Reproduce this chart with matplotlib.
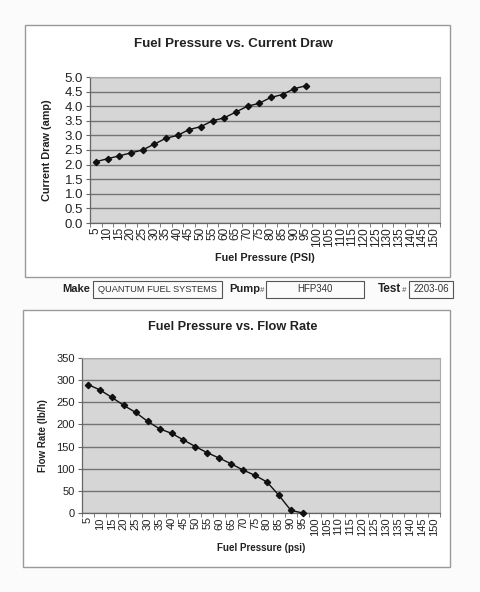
import matplotlib
matplotlib.use("Agg")
import matplotlib.pyplot as plt
from matplotlib.patches import Rectangle

plt.rcParams['font.family'] = ['Liberation Sans', 'DejaVu Sans']

categories = [str(v) for v in range(5, 155, 5)]
pressure_measured = [str(v) for v in range(5, 100, 5)]
current_draw = [2.1, 2.2, 2.3, 2.4, 2.5, 2.7, 2.9, 3.0, 3.2, 3.3, 3.5, 3.6,
                3.8, 4.0, 4.1, 4.3, 4.4, 4.6, 4.7]
flow_rate = [290, 278, 261, 243, 227, 207, 190, 180, 165, 150, 136, 124,
             111, 97, 85, 70, 40, 6, 0]
current_ticks = [0.0, 0.5, 1.0, 1.5, 2.0, 2.5, 3.0, 3.5, 4.0, 4.5, 5.0]
flow_ticks = [0, 50, 100, 150, 200, 250, 300, 350]

W, H = 480, 592
fig = plt.figure(figsize=(W / 100, H / 100), dpi=100)
fig.patch.set_facecolor('#fbfbfb')


def rect_px(x0, y0, x1, y1):
    return [x0 / W, 1 - y1 / H, (x1 - x0) / W, (y1 - y0) / H]


def box(x0, y0, x1, y1, ec='#9a9a9a', lw=1.0, fc='none', z=1):
    r = Rectangle((x0 / W, 1 - y1 / H), (x1 - x0) / W, (y1 - y0) / H,
                  transform=fig.transFigure, fill=(fc != 'none'),
                  facecolor=fc, edgecolor=ec, linewidth=lw, zorder=z)
    fig.add_artist(r)


def txt(x, y, s, **kw):
    fig.text(x / W, 1 - y / H, s, **kw)


# outer chart frames (behind the axes)
box(25, 25, 450, 277, fc='white', z=-5)
box(23, 310, 450, 567, fc='white', z=-5)


def make_chart(rect, values, yticks, ylabels, title, xlabel, ylabel,
               title_xy, xlabel_y, ylabel_x, fs_title, fs_lab, fs_xt, fs_yt):
    ax = fig.add_axes(rect_px(*rect))
    ax.set_facecolor('#d6d6d6')
    idx = list(range(len(categories)))
    xs = [categories.index(p) for p in pressure_measured]
    ax.plot(xs, values, color='#111111', lw=1.0, marker='D', ms=3.2,
            mfc='#111111', mec='#111111', clip_on=False, zorder=3)
    ax.set_xlim(-0.5, len(categories) - 0.5)
    ax.set_ylim(yticks[0], yticks[-1])
    ax.set_xticks(idx)
    ax.set_xticklabels(categories, rotation=90, fontsize=fs_xt,
                       color='#222222')
    ax.set_xticks([i - 0.5 for i in range(len(categories) + 1)], minor=True)
    ax.tick_params(axis='x', which='major', length=0, pad=3)
    ax.tick_params(axis='x', which='minor', length=3, color='#666666')
    ax.set_yticks(yticks)
    ax.set_yticklabels(ylabels, fontsize=fs_yt, color='#222222')
    ax.tick_params(axis='y', length=3, color='#666666', pad=2)
    ax.grid(axis='y', color='#737373', lw=1.0)
    ax.set_axisbelow(True)
    for s in ['top', 'right']:
        ax.spines[s].set_color('#aaaaaa')
        ax.spines[s].set_linewidth(0.8)
    for s in ['left', 'bottom']:
        ax.spines[s].set_color('#666666')
        ax.spines[s].set_linewidth(0.9)
    txt(title_xy[0], title_xy[1], title, ha='center', va='center',
        fontsize=fs_title, fontweight='bold', color='#222222')
    txt((rect[0] + rect[2]) / 2, xlabel_y, xlabel, ha='center', va='center',
        fontsize=fs_lab, fontweight='bold', color='#222222')
    txt(ylabel_x, (rect[1] + rect[3]) / 2, ylabel, ha='center', va='center',
        rotation=90, fontsize=fs_lab, fontweight='bold', color='#222222')
    return ax


make_chart((90, 77, 440, 223), current_draw, current_ticks,
           [f'{v:.1f}' for v in current_ticks],
           'Fuel Pressure vs. Current Draw', 'Fuel Pressure (PSI)',
           'Current Draw (amp)', (233, 44), 258, 47,
           9.6, 7.8, 8.5, 9.5)

make_chart((82, 358, 440, 513), flow_rate, flow_ticks,
           [str(v) for v in flow_ticks],
           'Fuel Pressure vs. Flow Rate', 'Fuel Pressure (psi)',
           'Flow Rate (lb/h)', (233, 327), 548, 43,
           9.2, 7.0, 8.0, 8.0)

# info row
txt(62, 289, 'Make', ha='left', va='center', fontsize=8, fontweight='bold',
    color='#222222')
box(93, 281, 222, 298, ec='#555555', lw=0.8)
txt(157.5, 289, 'QUANTUM FUEL SYSTEMS', ha='center', va='center',
    fontsize=6.7, color='#333333')
txt(229, 289, 'Pump', ha='left', va='center', fontsize=8, fontweight='bold',
    color='#222222')
txt(260, 290, '#', ha='left', va='center', fontsize=5.5, color='#444444',
    style='italic')
box(266, 281, 364, 298, ec='#555555', lw=0.8)
txt(315, 289, 'HFP340', ha='center', va='center', fontsize=7,
    color='#333333')
txt(378, 289, 'Test', ha='left', va='center', fontsize=8.5,
    fontweight='bold', color='#222222')
txt(402, 290, '#', ha='left', va='center', fontsize=5.5, color='#444444',
    style='italic')
box(409, 281, 453, 298, ec='#555555', lw=0.8)
txt(431, 289, '2203-06', ha='center', va='center', fontsize=7,
    color='#333333')

fig.savefig('out.png', dpi=100, facecolor=fig.get_facecolor())
